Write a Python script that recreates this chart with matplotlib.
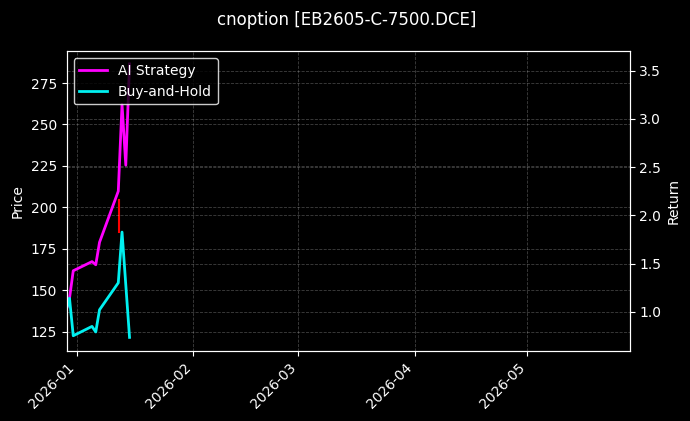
import pandas as pd
import matplotlib
matplotlib.use('Agg')
import matplotlib.pyplot as plt
import matplotlib.dates as mdates

# ---------------------------------------------
# data
dates = pd.to_datetime(['2025-12-29', '2025-12-30', '2025-12-31', '2026-01-05', '2026-01-06',
                        '2026-01-07', '2026-01-12', '2026-01-13', '2026-01-14', '2026-01-15'])
ai_return = [1.0, 1.14, 1.425, 1.52, 1.487, 1.72, 2.25, 3.15, 2.52, 3.57]
bh_return = [1.0, 1.14, 0.751, 0.848, 0.79, 1.02, 1.30, 1.826, 1.28, 0.734]

price_dates = pd.to_datetime(['2026-01-12 02:00', '2026-01-12 02:00'])
price_vals = [204.5, 185.0]

x_start = pd.Timestamp('2025-12-29 06:15')
x_end = pd.Timestamp('2026-05-28 07:00')

# ---------------------------------------------
# plot
plt.style.use('dark_background')
fig = plt.figure(figsize=(6.9, 4.21), dpi=100)
ax = fig.add_axes([0.0967, 0.167, 0.8159, 0.711])
ax2 = ax.twinx()

ax.plot(price_dates, price_vals, color='red', linewidth=1.5)
ax.set_ylim(113.5, 294.1)
ax.set_ylabel('Price')
ax.grid(True, linestyle='--', linewidth=0.6, alpha=0.25)

l1, = ax2.plot(dates, ai_return, color='#ff00ff', linewidth=2, label='AI Strategy')
l2, = ax2.plot(dates, bh_return, color='#00f0f0', linewidth=2, label='Buy-and-Hold')
ax2.set_ylim(0.596, 3.70)
ax2.set_ylabel('Return')
ax2.grid(True, linestyle='--', linewidth=0.6, alpha=0.25)

ax.set_xlim(x_start, x_end)
ax.xaxis.set_major_locator(mdates.MonthLocator())
ax.xaxis.set_major_formatter(mdates.DateFormatter('%Y-%m'))
plt.setp(ax.get_xticklabels(), rotation=45, ha='right')

ax2.legend(handles=[l1, l2], loc='upper left', facecolor='black', edgecolor='white')
fig.suptitle('cnoption [EB2605-C-7500.DCE]', fontsize=12, x=0.503, y=0.975)

plt.savefig('out.png', dpi=100)
